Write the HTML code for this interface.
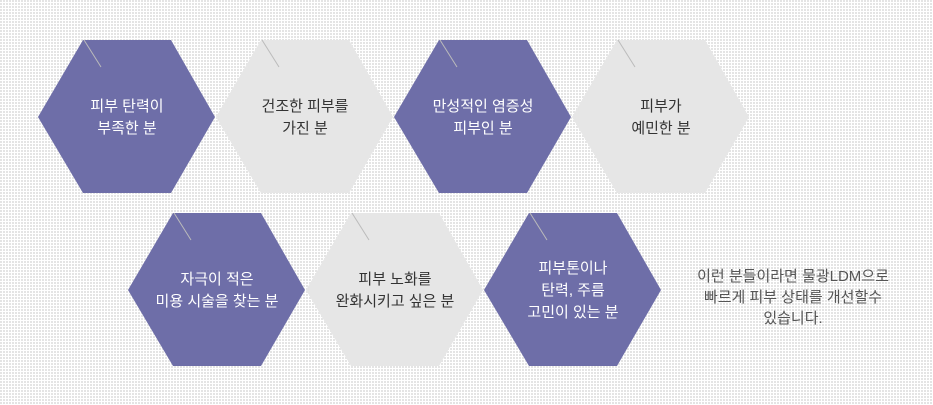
<!DOCTYPE html>
<html><head><meta charset="utf-8"><style>
html,body{margin:0;padding:0;width:933px;height:405px;overflow:hidden;background:#fff}
svg{display:block}
text{font-family:"Liberation Sans","Noto Sans CJK KR",sans-serif;font-size:15px;text-anchor:middle}
</style></head><body>
<svg width="933" height="405" viewBox="0 0 933 405" xmlns="http://www.w3.org/2000/svg">
<defs>
<pattern id="d" width="3" height="3" patternUnits="userSpaceOnUse">
<rect width="3" height="3" fill="#fff"/><rect x="0" y="0" width="2" height="2" fill="#e4e4e4"/>
</pattern>
<polygon id="h" points="0,77 45,0 133,0 177,77 133,153 45,153"/>
</defs>
<rect width="933" height="405" fill="url(#d)"/>
<g>
<use href="#h" x="38" y="40" fill="#6e6ea8"/>
<use href="#h" x="216" y="40" fill="#e6e6e6"/>
<use href="#h" x="394" y="40" fill="#6e6ea8"/>
<use href="#h" x="572" y="40" fill="#e6e6e6"/>
<use href="#h" x="128" y="213" fill="#6e6ea8"/>
<use href="#h" x="306" y="213" fill="#e6e6e6"/>
<use href="#h" x="484" y="213" fill="#6e6ea8"/>
</g>
<g stroke="#bbb" stroke-width="1">
<line x1="84" y1="40" x2="101" y2="67"/>
<line x1="262" y1="40" x2="279" y2="67"/>
<line x1="440" y1="40" x2="457" y2="67"/>
<line x1="618" y1="40" x2="635" y2="67"/>
<line x1="174" y1="213" x2="191" y2="240"/>
<line x1="352" y1="213" x2="369" y2="240"/>
<line x1="530" y1="213" x2="547" y2="240"/>
</g>
<g fill="#fff">
<text x="127" y="111">피부 탄력이</text><text x="127" y="133">부족한 분</text>
<text x="483" y="111">만성적인 염증성</text><text x="483" y="133">피부인 분</text>
<text x="217" y="284">자극이 적은</text><text x="217" y="306">미용 시술을 찾는 분</text>
<text x="573" y="273">피부톤이나</text><text x="573" y="295">탄력, 주름</text><text x="573" y="317">고민이 있는 분</text>
</g>
<g fill="#333">
<text x="305" y="111">건조한 피부를</text><text x="305" y="133">가진 분</text>
<text x="661" y="111">피부가</text><text x="661" y="133">예민한 분</text>
<text x="395" y="284">피부 노화를</text><text x="395" y="306">완화시키고 싶은 분</text>
</g>
<g fill="#555" style="font-size:13.5px">
<text x="793" y="281">이런 분들이라면 물광LDM으로</text>
<text x="793" y="302">빠르게 피부 상태를 개선할수</text>
<text x="793" y="323">있습니다.</text>
</g>
</svg>
</body></html>
